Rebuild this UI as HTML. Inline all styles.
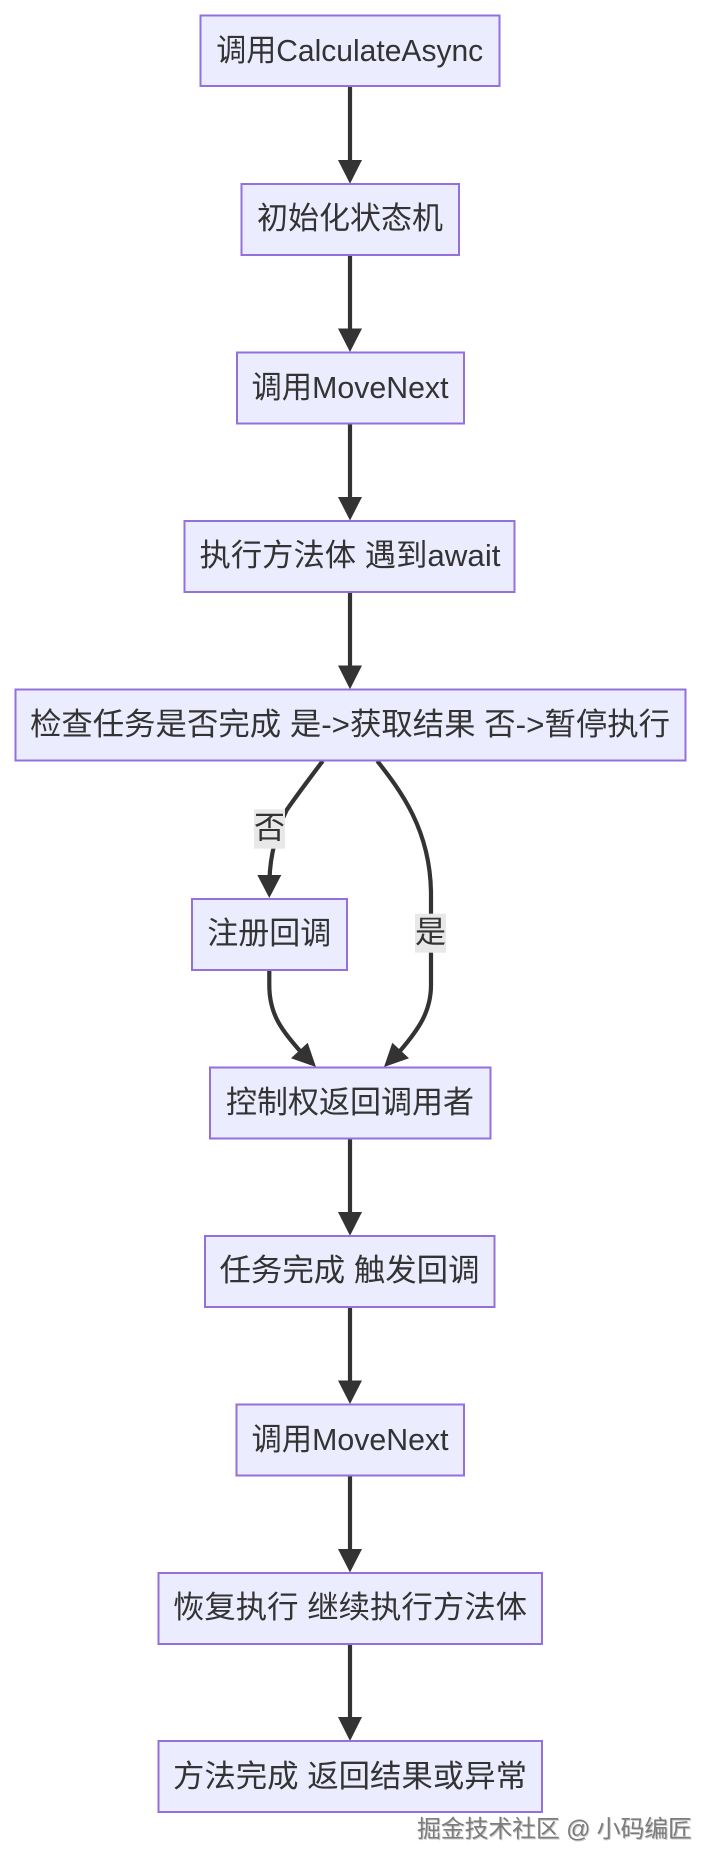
<!DOCTYPE html>
<html lang="zh"><head><meta charset="utf-8"><style>
html,body{margin:0;padding:0;background:#fff}
svg{display:block;filter:blur(.35px)}
text{font-family:"Liberation Sans","Noto Sans CJK SC",sans-serif;font-size:31px;fill:#333;text-anchor:middle}
.n{fill:#ECECFF;stroke:#9370DB;stroke-width:2}
.e{fill:none;stroke:#333;stroke-width:4.2}
.a{fill:#333}
.l{fill:#e8e8e8}
.w{font-size:24px;fill:#7c7c7c;text-anchor:start;filter:drop-shadow(1px 1px 0 #ccc)}
</style></head><body>
<svg width="716" height="1866" viewBox="0 0 716 1866" xmlns="http://www.w3.org/2000/svg">
<rect width="716" height="1866" fill="#fff"/>
<g class="e">
<path class="e" d="M350 86V162"/>
<path class="e" d="M350 255V330"/>
<path class="e" d="M350 423V499"/>
<path class="e" d="M350 592V667"/>
<path class="e" d="M322.7 761C310 778 297 795 286.7 810C277 830 270 855 269.5 880"/>
<path class="e" d="M377.3 761C400 790 431 830 431 895V985C431 1012 418 1030 400 1051"/>
<path class="e" d="M269.3 970V985C269.3 1015 282 1030 300 1051"/>
<path class="e" d="M350 1139V1214"/>
<path class="e" d="M350 1307V1382"/>
<path class="e" d="M350 1475V1551"/>
<path class="e" d="M350 1644V1719"/>
</g>
<g class="a">
<path d="M338 160H362L350 183.7Z"/>
<path d="M338 328.5H362L350 352Z"/>
<path d="M338 497H362L350 520.5Z"/>
<path d="M338 665.5H362L350 689.3Z"/>
<path d="M257.3 875H281.3L269.3 898Z"/>
<path d="M291 1058.3L307.7 1042.7L316 1067Z"/>
<path d="M409 1058.3L392.3 1042.7L384 1067Z"/>
<path d="M338 1212H362L350 1235.7Z"/>
<path d="M338 1380.5H362L350 1404Z"/>
<path d="M338 1549H362L350 1572.5Z"/>
<path d="M338 1717H362L350 1741Z"/>
</g>
<rect class="l" x="254" y="809.3" width="31" height="39.4"/>
<text x="269.5" y="838.5">否</text>
<rect class="l" x="415" y="913.7" width="31" height="39"/>
<text x="430.5" y="943">是</text>

<rect class="n" x="200.5" y="15.5" width="299" height="70.5"/>
<text x="349.7" y="61" textLength="267" lengthAdjust="spacingAndGlyphs">调用CalculateAsync</text>
<rect class="n" x="241.5" y="184" width="217.5" height="71"/>
<text x="350" y="229">初始化状态机</text>
<rect class="n" x="237" y="352.5" width="227" height="71"/>
<text x="350" y="398" textLength="197" lengthAdjust="spacingAndGlyphs">调用MoveNext</text>
<rect class="n" x="184.5" y="521" width="330" height="71"/>
<text x="350" y="566" textLength="301" lengthAdjust="spacingAndGlyphs">执行方法体 遇到await</text>
<rect class="n" x="15.5" y="689.5" width="670" height="71"/>
<text x="350" y="735" textLength="640" lengthAdjust="spacingAndGlyphs">检查任务是否完成 是-&gt;获取结果 否-&gt;暂停执行</text>
<rect class="n" x="192" y="899" width="155" height="71"/>
<text x="269.3" y="944">注册回调</text>
<rect class="n" x="210" y="1067.5" width="280.5" height="71"/>
<text x="350" y="1113">控制权返回调用者</text>
<rect class="n" x="205" y="1236" width="289.5" height="71"/>
<text x="349.5" y="1281" textLength="260" lengthAdjust="spacingAndGlyphs">任务完成 触发回调</text>
<rect class="n" x="236.5" y="1404.5" width="227.5" height="71"/>
<text x="350" y="1450" textLength="197" lengthAdjust="spacingAndGlyphs">调用MoveNext</text>
<rect class="n" x="158.5" y="1573" width="383.5" height="71"/>
<text x="350" y="1618" textLength="354" lengthAdjust="spacingAndGlyphs">恢复执行 继续执行方法体</text>
<rect class="n" x="158.5" y="1741" width="383.5" height="71"/>
<text x="350" y="1787" textLength="354" lengthAdjust="spacingAndGlyphs">方法完成 返回结果或异常</text>
<text class="w" x="417" y="1837" textLength="275">掘金技术社区 @ 小码编匠</text>
</svg>
</body></html>
